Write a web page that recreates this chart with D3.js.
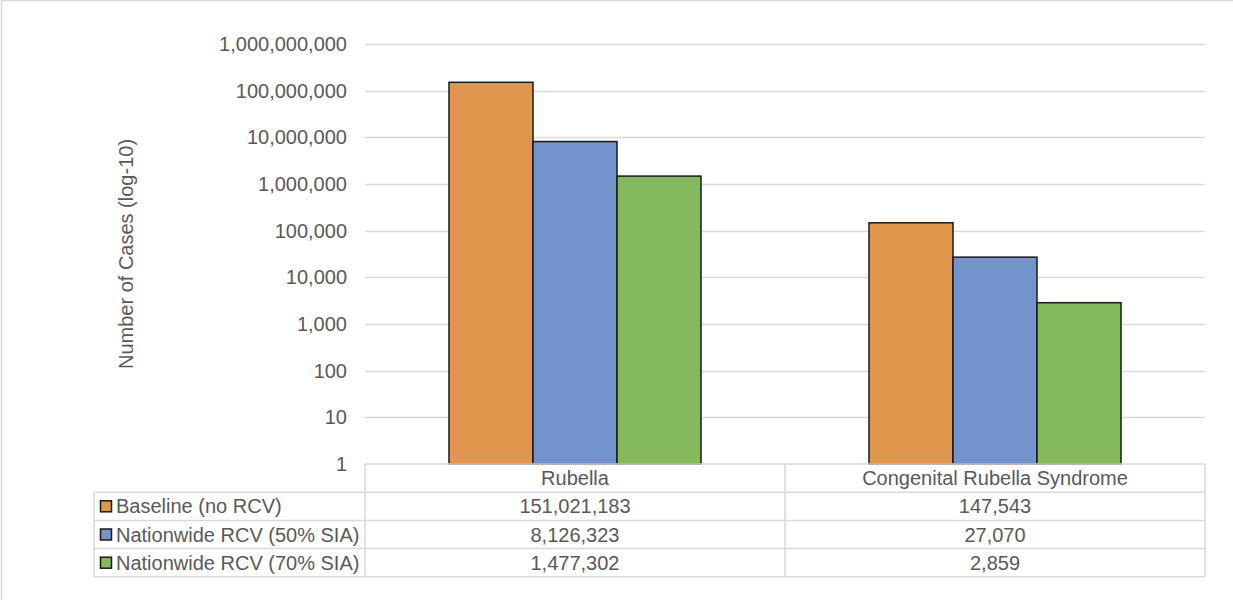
<!DOCTYPE html>
<html><head><meta charset="utf-8">
<script src="https://cdn.jsdelivr.net/npm/d3@7"></script>
<style>
html,body{margin:0;padding:0;background:#fff;}
svg{display:block;font-family:"Liberation Sans",Arial,sans-serif;}
</style></head>
<body>
<script>
const categories = ["Rubella", "Congenital Rubella Syndrome"];
const seriesNames = ["Baseline (no RCV)", "Nationwide RCV (50% SIA)", "Nationwide RCV (70% SIA)"];
const baseline = [151021183, 147543];
const rcv50 = [8126323, 27070];
const rcv70 = [1477302, 2859];
const seriesColors = ["#E0964C", "#7293CB", "#84BA5B"];
const yTicks = [1, 10, 100, 1000, 10000, 100000, 1000000, 10000000, 100000000, 1000000000];
const yTitle = "Number of Cases (log-10)";

const series = [baseline, rcv50, rcv70];
const W = 1233, H = 600;
const svg = d3.select("body").append("svg").attr("width", W).attr("height", H);

// outer chart border (only left/top visible)
svg.append("rect").attr("x", 1.5).attr("y", 0.5).attr("width", W + 10).attr("height", H + 10)
  .attr("fill", "none").attr("stroke", "#D9D9D9").attr("stroke-width", 1.5);

const plot = {left: 365, right: 1205, top: 44, bottom: 464};
const y = d3.scaleLog().domain([1, 1e9]).range([plot.bottom, plot.top]);
const x0 = d3.scaleBand().domain(categories).range([plot.left, plot.right]).paddingInner(0).paddingOuter(0);
const x1 = d3.scaleBand().domain(d3.range(series.length)).range([0, x0.bandwidth()]).paddingInner(0).paddingOuter(1);

const textColor = "#595959";
const fs = 20;

// gridlines
svg.append("g").selectAll("line").data(yTicks.slice(1)).join("line")
  .attr("x1", plot.left).attr("x2", plot.right)
  .attr("y1", d => Math.round(y(d)) + 0.5).attr("y2", d => Math.round(y(d)) + 0.5)
  .attr("stroke", "#D9D9D9").attr("stroke-width", 1.3);

// y axis
const yAxis = d3.axisLeft(y).tickValues(yTicks).tickFormat(d3.format(",")).tickSize(0).tickPadding(18);
const ga = svg.append("g").attr("transform", `translate(${plot.left},0)`).call(yAxis);
ga.select(".domain").remove();
ga.selectAll("text").attr("fill", textColor).style("font-size", fs + "px").style("font-family", '"Liberation Sans",Arial,sans-serif');

// y title
svg.append("text").attr("transform", `translate(133,${(plot.top + plot.bottom) / 2}) rotate(-90)`)
  .attr("text-anchor", "middle").attr("fill", textColor).style("font-size", fs + "px").text(yTitle);

// bars
categories.forEach((c, ci) => {
  series.forEach((s, si) => {
    svg.append("rect")
      .attr("x", x0(c) + x1(si))
      .attr("y", y(s[ci]))
      .attr("width", x1.bandwidth())
      .attr("height", y(1) - y(s[ci]))
      .attr("fill", seriesColors[si]).attr("stroke", "#1a1a1a").attr("stroke-width", 1.5);
  });
});

// data table
const tbl = {left: 94, top: 464, rowH: 28.2};
const tg = svg.append("g");
const lineC = "#D9D9D9";
const nRows = series.length + 1;
const bottom = tbl.top + tbl.rowH * nRows;
tg.append("line").attr("x1", plot.left).attr("x2", plot.right).attr("y1", tbl.top).attr("y2", tbl.top).attr("stroke", lineC).attr("stroke-width", 1.5);
for (let r = 1; r <= nRows; r++) {
  const yy = tbl.top + tbl.rowH * r;
  tg.append("line").attr("x1", tbl.left).attr("x2", plot.right).attr("y1", yy).attr("y2", yy).attr("stroke", lineC).attr("stroke-width", 1.5);
}
tg.append("line").attr("x1", tbl.left).attr("x2", tbl.left).attr("y1", tbl.top + tbl.rowH).attr("y2", bottom).attr("stroke", lineC).attr("stroke-width", 1.5);
[plot.left, x0(categories[1]), plot.right].forEach(xx => {
  tg.append("line").attr("x1", xx).attr("x2", xx).attr("y1", tbl.top).attr("y2", bottom).attr("stroke", lineC).attr("stroke-width", 1.5);
});
categories.forEach(c => {
  tg.append("text").attr("x", x0(c) + x0.bandwidth() / 2).attr("y", tbl.top + tbl.rowH / 2 + 7)
    .attr("text-anchor", "middle").attr("fill", textColor).style("font-size", fs + "px").text(c);
});
series.forEach((s, si) => {
  const cy = tbl.top + tbl.rowH * (si + 1) + tbl.rowH / 2;
  tg.append("rect").attr("x", 100.5).attr("y", cy - 5.5).attr("width", 11).attr("height", 11)
    .attr("fill", seriesColors[si]).attr("stroke", "#1a1a1a").attr("stroke-width", 1.5);
  tg.append("text").attr("x", 116).attr("y", cy + 7).attr("fill", textColor).style("font-size", fs + "px").text(seriesNames[si]);
  categories.forEach((c, ci) => {
    tg.append("text").attr("x", x0(c) + x0.bandwidth() / 2).attr("y", cy + 7)
      .attr("text-anchor", "middle").attr("fill", textColor).style("font-size", fs + "px").text(d3.format(",")(s[ci]));
  });
});
</script>
</body></html>
